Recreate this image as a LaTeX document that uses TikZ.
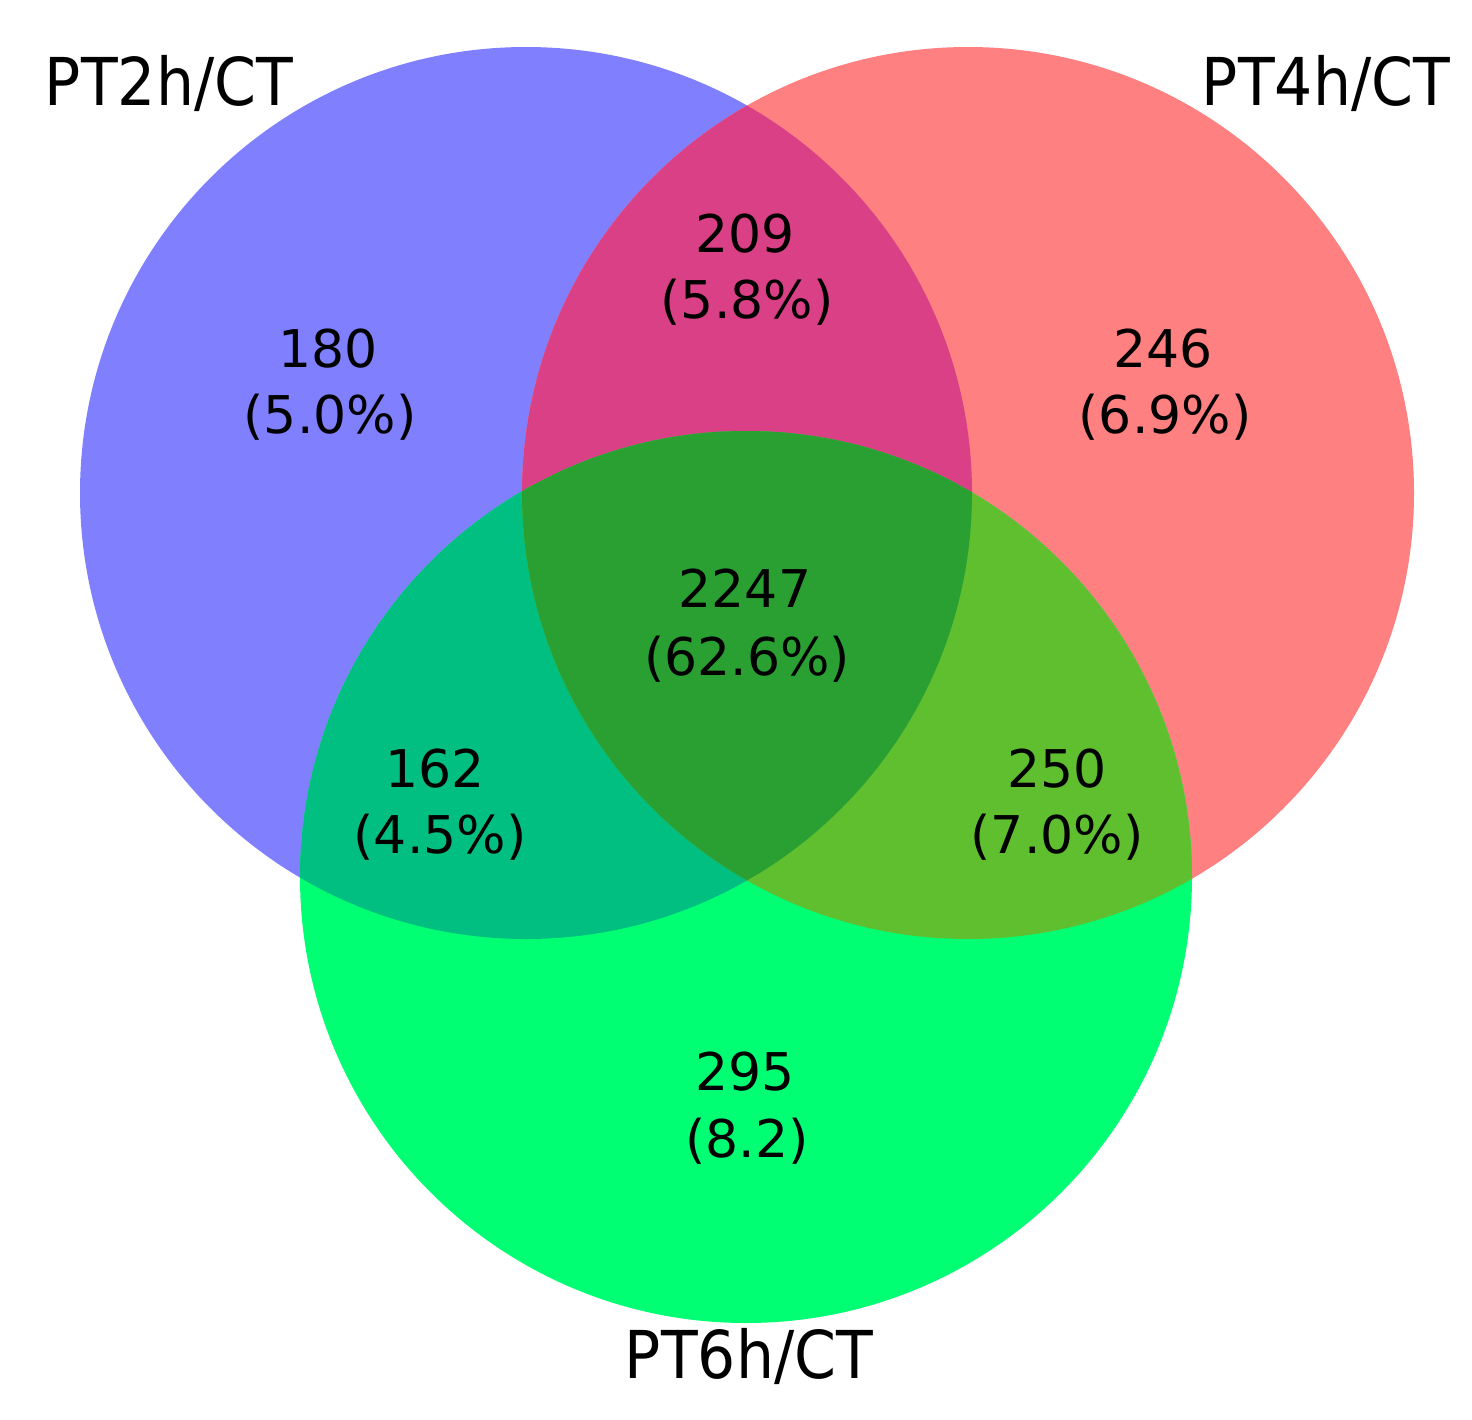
\documentclass[tikz,border=0pt]{standalone}
\usepackage{fontspec}
\setmainfont{DejaVu Sans}
\newfontfamily\labfont[FakeStretch=0.91]{DejaVu Sans}
\definecolor{bonly}{HTML}{8080FF}
\definecolor{ronly}{HTML}{FF8080}
\definecolor{gonly}{HTML}{00FF73}
\definecolor{brcol}{HTML}{DA4085}
\definecolor{bgcol}{HTML}{00BF80}
\definecolor{rgcol}{HTML}{5FBF2F}
\definecolor{allcol}{HTML}{2AA032}
\begin{document}
\begin{tikzpicture}[x=1pt,y=-1pt,
  num/.style={font=\fontsize{52}{60}\selectfont, anchor=base, inner sep=0pt, text=black},
  lab/.style={font=\labfont\fontsize{66}{72}\selectfont, anchor=base, inner sep=0pt, text=black}]
\useasboundingbox[fill=white] (0,0) rectangle (1472,1419);
\coordinate (cB) at (526,493);
\coordinate (cR) at (968,493);
\coordinate (cG) at (746,877);
\def\rad{446pt}
\fill[bonly] (cB) circle[radius=\rad];
\fill[ronly] (cR) circle[radius=\rad];
\fill[gonly] (cG) circle[radius=\rad];
\begin{scope}
  \clip (cB) circle[radius=\rad];
  \fill[brcol] (cR) circle[radius=\rad];
  \fill[bgcol] (cG) circle[radius=\rad];
\end{scope}
\begin{scope}
  \clip (cR) circle[radius=\rad];
  \fill[rgcol] (cG) circle[radius=\rad];
\end{scope}
\begin{scope}
  \clip (cB) circle[radius=\rad];
  \clip (cR) circle[radius=\rad];
  \fill[allcol] (cG) circle[radius=\rad];
\end{scope}
\node[lab] (l2) at (169,105) {PT2h/CT};
\node[lab] (l4) at (1326,105) {PT4h/CT};
\node[lab] (l6) at (749,1378) {PT6h/CT};
\node[num] (n180) at (328,367) {180};
\node[num] (p180) at (330,433) {(5.0\%)};
\node[num] (n209) at (745,252) {209};
\node[num] (p209) at (747,318) {(5.8\%)};
\node[num] (n246) at (1163,367) {246};
\node[num] (p246) at (1165,433) {(6.9\%)};
\node[num] (n2247) at (745,607) {2247};
\node[num] (p2247) at (747,675) {(62.6\%)};
\node[num] (n162) at (435,787) {162};
\node[num] (p162) at (440,853) {(4.5\%)};
\node[num] (n250) at (1057,787) {250};
\node[num] (p250) at (1057,853) {(7.0\%)};
\node[num] (n295) at (745,1090) {295};
\node[num] (p295) at (747,1157) {(8.2)};
\end{tikzpicture}
\end{document}
